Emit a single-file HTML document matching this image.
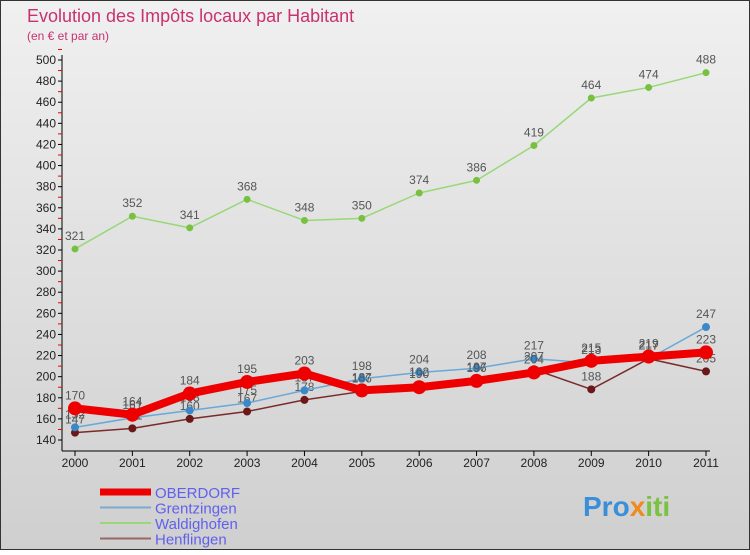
<!DOCTYPE html>
<html><head><meta charset="utf-8"><style>
html,body{margin:0;padding:0;}
body{width:750px;height:550px;overflow:hidden;font-family:"Liberation Sans",sans-serif;}
</style></head><body>
<svg id="chart" width="750" height="550" xmlns="http://www.w3.org/2000/svg">
<defs><linearGradient id="bg" x1="0" y1="0" x2="0" y2="1"><stop offset="0" stop-color="#f0f0f0"/><stop offset="1" stop-color="#cfcfcf"/></linearGradient></defs>
<rect x="0.5" y="0.5" width="749" height="549" fill="url(#bg)" stroke="#333"/>
<text x="27" y="22" font-size="18" fill="#c8326e">Evolution des Impôts locaux par Habitant</text>
<text x="27" y="40" font-size="12" fill="#c8326e">(en € et par an)</text>
<g id="axes"></g>
<g id="series"></g>
<g id="legend"></g>
<text x="583" y="516" font-size="28" font-weight="bold" fill="#3a8fd8">Pro<tspan fill="#f08a1c">x</tspan><tspan fill="#7cc242">iti</tspan></text>
</svg>
<script>
const years=[2000,2001,2002,2003,2004,2005,2006,2007,2008,2009,2010,2011];
const oberdorf=[170,164,184,195,203,187,190,196,204,215,219,223];
const grentzingen=[152,161,168,175,187,198,204,208,217,213,217,247];
const waldighofen=[321,352,341,368,348,350,374,386,419,464,474,488];
const henflingen=[147,151,160,167,178,186,192,197,207,188,217,205];
const yTicks=[140,160,180,200,220,240,260,280,300,320,340,360,380,400,420,440,460,480,500];
const NS='http://www.w3.org/2000/svg';
const x=i=>75+i*(631/11);
const y=v=>440-(v-140)*(380/360);
function mk(tag,attrs,parent,txt){const e=document.createElementNS(NS,tag);for(const k in attrs)e.setAttribute(k,attrs[k]);if(txt!==undefined)e.textContent=txt;parent.appendChild(e);return e;}
const ax=document.getElementById('axes');
let l=mk('line',{x1:62,y1:55,x2:62,y2:451,stroke:'#000'},ax);


l=mk('line',{x1:62,y1:451,x2:710,y2:451,stroke:'#000'},ax);


yTicks.forEach(v=>{
  mk('line',{x1:58,y1:y(v),x2:62,y2:y(v),stroke:'#000'},ax);
  mk('line',{x1:58,y1:y(v+10),x2:62,y2:y(v+10),stroke:'#e00'},ax);
  const t=mk('text',{x:56,y:y(v)+4,'font-size':12,'text-anchor':'end',fill:'#222'},ax,String(v));
  
  
});
years.forEach((yr,i)=>{
  mk('line',{x1:x(i),y1:451,x2:x(i),y2:456,stroke:'#000'},ax);
  const t=mk('text',{x:x(i),y:467,'font-size':12,'text-anchor':'middle',fill:'#222'},ax,String(yr));
  
  
});
const S=[
 {n:'henflingen',d:henflingen,c:'#7a2a2a',w:1.5,r:4,pc:'#6a1818'},
 {n:'grentzingen',d:grentzingen,c:'#6aa8d8',w:1.5,r:4,pc:'#3a88c8'},
 {n:'waldighofen',d:waldighofen,c:'#98d878',w:1.5,r:3.5,pc:'#78c040'},
 {n:'oberdorf',d:oberdorf,c:'#ee0000',w:8,r:7,pc:'#ee0000'}];
const sg=document.getElementById('series');
S.forEach(s=>{
  const g=mk('g',{},sg);
  
  
  const p=mk('polyline',{points:s.d.map((v,i)=>x(i)+','+y(v)).join(' '),fill:'none',stroke:s.c,'stroke-width':s.w,'stroke-linejoin':'round'},g);
  
  
  s.d.forEach((v,i)=>{
    const c=mk('circle',{cx:x(i),cy:y(v),r:s.r,fill:s.pc},g);
    
    
    const t=mk('text',{x:x(i),y:y(v)-9,'font-size':12,'text-anchor':'middle',fill:'#555'},g,String(v));
    
    
  });
});
const lg=document.getElementById('legend');
const L=[['OBERDORF','#ee0000',7,'oberdorf'],['Grentzingen','#7aaad0',2,'grentzingen'],['Waldighofen','#98d878',2,'waldighofen'],['Henflingen','#986868',2,'henflingen']];
L.forEach((e,i)=>{
  const yy=492+i*15.5;
  const g=mk('g',{},lg);
  
  
  mk('line',{x1:100,y1:yy,x2:151,y2:yy,stroke:e[1],'stroke-width':e[2]},g);
  mk('text',{x:155,y:yy+6,'font-size':15,fill:'#6060ee'},g,e[0]);
});
</script>
</body></html>
